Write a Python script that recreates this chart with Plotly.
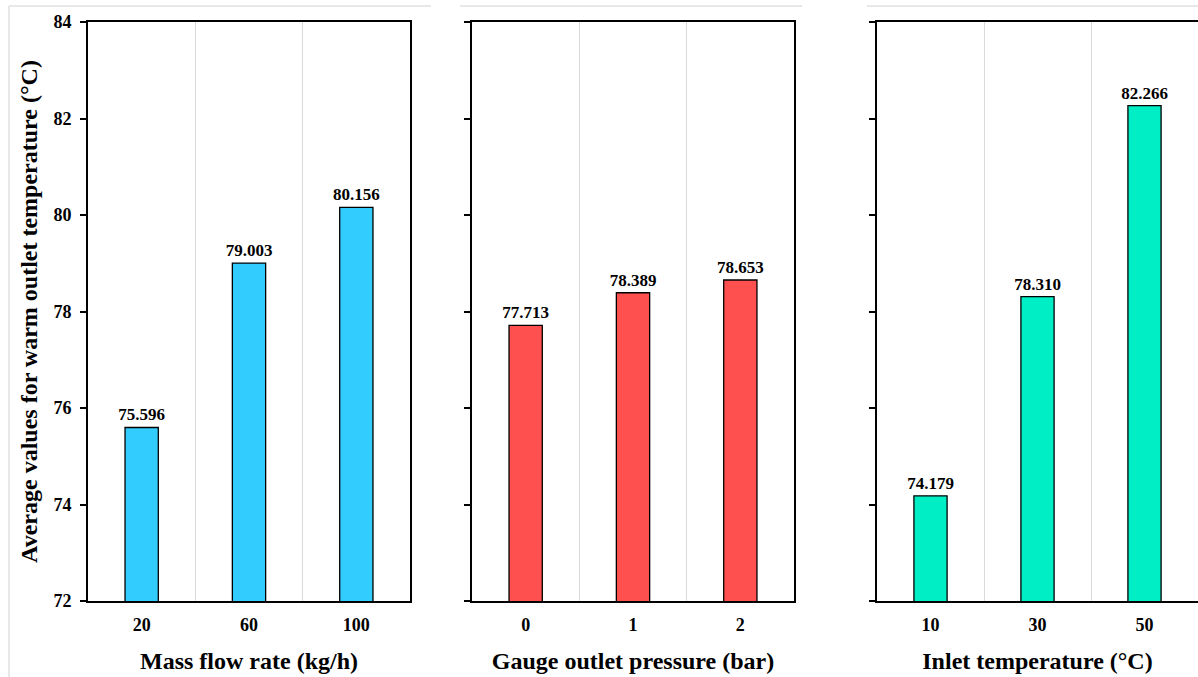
import plotly.graph_objects as go

# Data
flow_labels = ["20", "60", "100"]
flow_values = [75.596, 79.003, 80.156]
pressure_labels = ["0", "1", "2"]
pressure_values = [77.713, 78.389, 78.653]
inlet_labels = ["10", "30", "50"]
inlet_values = [74.179, 78.310, 82.266]

x_titles = ["Mass flow rate (kg/h)", "Gauge outlet pressure (bar)", "Inlet temperature (°C)"]
y_title = "Average values for warm outlet temperature (°C)"
colors = ["#33CCFF", "#FF5050", "#00EEC6"]

W, H = 1198, 677
FONT = "Liberation Serif"

panels = [
    (flow_labels, flow_values),
    (pressure_labels, pressure_values),
    (inlet_labels, inlet_values),
]

x_domains = [[88 / W, 410 / W], [472 / W, 794 / W], [877 / W, 1.0]]
y_domain = [1 - 601 / H, 1 - 22 / H]

fig = go.Figure()
for i, (labels, vals) in enumerate(panels):
    n = "" if i == 0 else str(i + 1)
    fig.add_trace(go.Bar(
        x=list(range(len(labels))), y=vals,
        xaxis="x" + n, yaxis="y" + n,
        width=0.31,
        marker=dict(color=colors[i], line=dict(color="black", width=1.3)),
        text=[f"{v:.3f}" for v in vals],
        textposition="outside",
        constraintext="none",
        textfont=dict(family=FONT, size=17, color="black", weight="bold"),
        cliponaxis=False,
        showlegend=False,
    ))

layout = dict(
    width=W, height=H,
    margin=dict(l=0, r=0, t=0, b=0, autoexpand=False),
    paper_bgcolor="white", plot_bgcolor="white",
    font=dict(family=FONT, color="black"),
)

for i, (labels, vals) in enumerate(panels):
    n = "" if i == 0 else str(i + 1)
    layout["xaxis" + n] = dict(
        domain=x_domains[i],
        anchor="y" + n,
        range=[-0.5, 2.5],
        automargin=False,
        tickmode="array",
        tickvals=list(range(len(labels))),
        ticktext=labels,
        tickfont=dict(family=FONT, size=18, color="black", weight="bold"),
        ticks="",
        ticklabelstandoff=6,
        showgrid=False,
        minor=dict(tickmode="array", tickvals=[0.5, 1.5], showgrid=True,
                   gridcolor="#d9d9d9", gridwidth=1, ticks=""),
        showline=True, linecolor="black", linewidth=2, mirror=True,
        zeroline=False,
        title=dict(text=x_titles[i], standoff=19,
                   font=dict(family=FONT, size=24, color="black", weight="bold")),
    )
    layout["yaxis" + n] = dict(
        domain=y_domain,
        anchor="x" + n,
        range=[72, 84],
        automargin=False,
        tickmode="linear", tick0=72, dtick=2,
        ticks="outside", ticklen=6, tickwidth=1.5, tickcolor="black",
        ticklabelstandoff=5,
        showticklabels=(i == 0),
        tickfont=dict(family=FONT, size=18, color="black", weight="bold"),
        showgrid=False, zeroline=False,
        showline=True, linecolor="black", linewidth=2,
        mirror=(i != 2),
        title=dict(text=y_title if i == 0 else "", standoff=9,
                   font=dict(family=FONT, size=24, color="black", weight="bold")),
    )

# faint borders of the original pasted panels
border = "#e0e0e0"
shapes = []
for x0, x1 in [(9, 431), (460, 802), (867, 1198)]:
    shapes.append(dict(type="line", xref="paper", yref="paper",
                       x0=x0 / W, x1=x1 / W, y0=1 - 6 / H, y1=1 - 6 / H,
                       line=dict(color=border, width=1.5)))
shapes.append(dict(type="line", xref="paper", yref="paper",
                   x0=9 / W, x1=9 / W, y0=0, y1=1 - 6 / H,
                   line=dict(color=border, width=1.5)))
layout["shapes"] = shapes

fig.update_layout(**layout)
fig.write_html("out.html")
